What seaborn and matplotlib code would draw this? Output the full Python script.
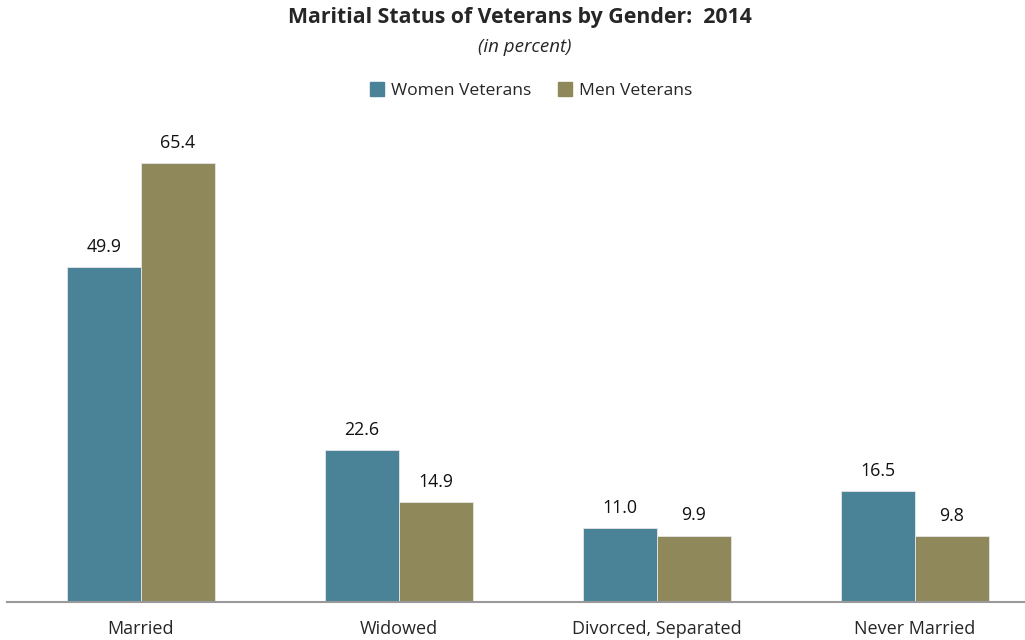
import pandas as pd
import matplotlib.pyplot as plt
import seaborn as sns

# Chart data
categories = ['Married', 'Widowed', 'Divorced, Separated', 'Never Married']
women_veterans = [49.9, 22.6, 11.0, 16.5]
men_veterans = [65.4, 14.9, 9.9, 9.8]
series_names = ['Women Veterans', 'Men Veterans']
colors = ['#4A8398', '#8F885A']


def build_frame():
    rows = []
    for cat, w, m in zip(categories, women_veterans, men_veterans):
        rows.append({'status': cat, 'group': series_names[0], 'pct': w})
        rows.append({'status': cat, 'group': series_names[1], 'pct': m})
    return pd.DataFrame(rows)


sns.set_style('white')
plt.rcParams['font.family'] = ['Open Sans', 'DejaVu Sans']

df = build_frame()

fig = plt.figure(figsize=(10.25, 6.4), dpi=100)
ax = fig.add_axes([7 / 1025, 38 / 640, 1037 / 1025, 470 / 640])

sns.barplot(data=df, x='status', y='pct', hue='group', order=categories,
            hue_order=series_names, palette=colors, width=0.574,
            saturation=1, ax=ax, legend=False, edgecolor='#E6E6E6', linewidth=0.6)

for container in ax.containers:
    ax.bar_label(container, fmt='%.1f', padding=8, fontsize=12.8, color='#111111')

ax.set_xlim(-0.519, 3.5)
ax.set_ylim(0, 70)
ax.set_xlabel('')
ax.set_ylabel('')
ax.set_yticks([])
ax.tick_params(axis='x', length=0, labelsize=13, pad=13)
for side in ['top', 'right', 'left']:
    ax.spines[side].set_visible(False)
ax.spines['bottom'].set_color('#999999')
ax.spines['bottom'].set_linewidth(1.5)

# Title, subtitle, legend
fig.text(0.507, 0.972, 'Maritial Status of Veterans by Gender:  2014',
         ha='center', va='center', fontsize=15.3, fontweight='bold')
fig.text(0.512, 0.927, '(in percent)', ha='center', va='center',
         fontsize=13.5, style='italic')

handles = [plt.Rectangle((0, 0), 1, 1, color=c) for c in colors]
fig.legend(handles, series_names, loc='center', bbox_to_anchor=(0.518, 0.858),
           ncol=2, frameon=False, fontsize=12.6, handlelength=0.8,
           handleheight=0.8, handletextpad=0.4, columnspacing=1.5)

fig.savefig('out.png', dpi=100)
